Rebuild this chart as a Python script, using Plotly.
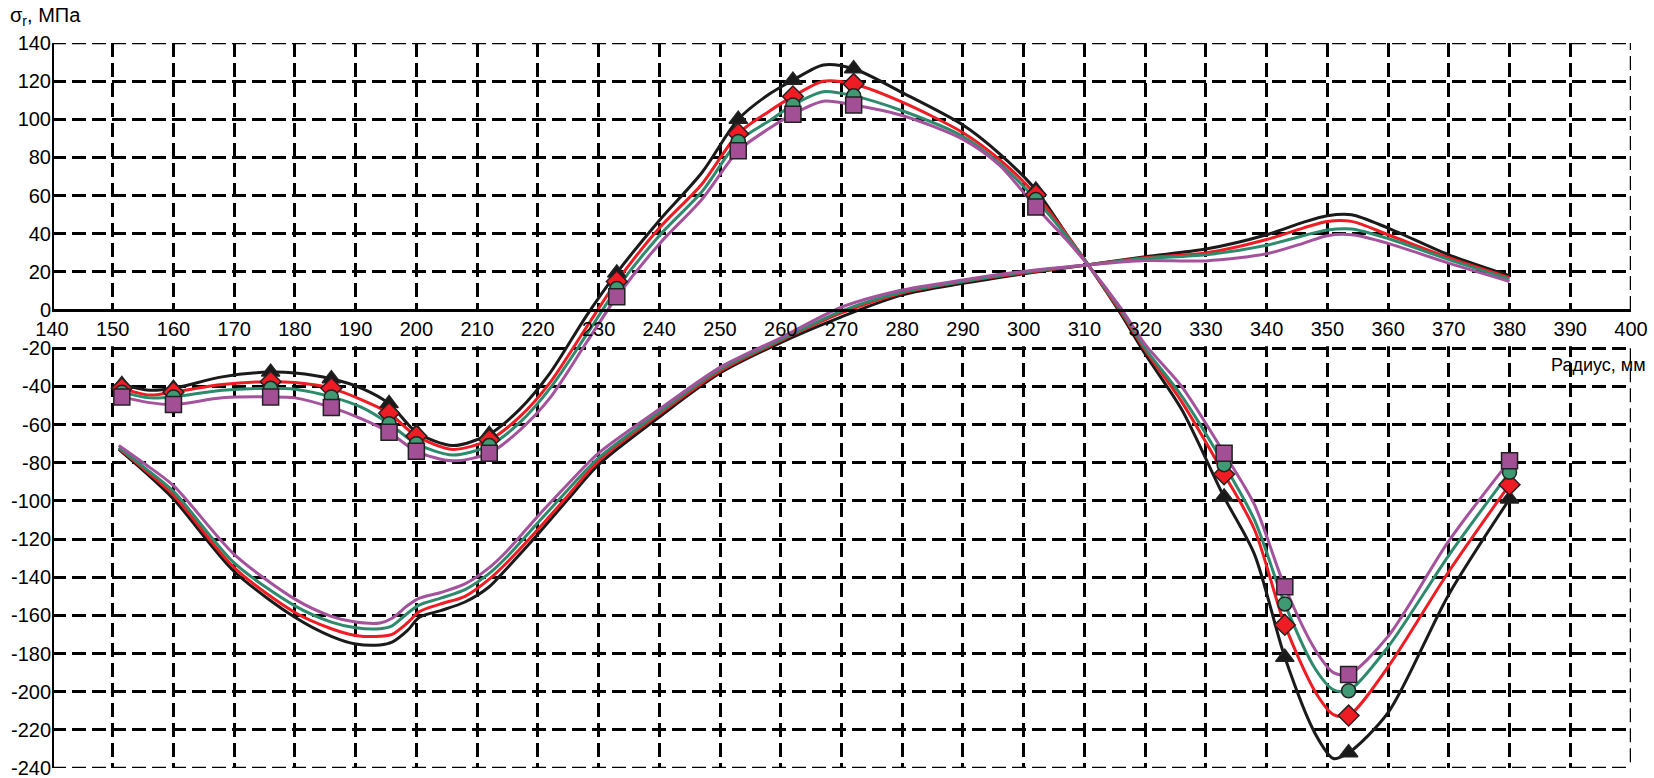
import plotly.graph_objects as go

# ---- data ----
# upper family (with markers)
UP_R = [151.5, 156, 160, 168, 176, 180, 186, 191, 195.5, 200, 206, 212, 217, 222, 228, 233,
        240, 247, 253, 258, 262, 267, 272, 280, 290, 296, 302, 307, 311, 316, 320, 326,
        333, 338, 343, 348, 351, 353.5, 360, 370, 380]
UP_BLACK = [-39, -42, -41, -35, -32.5, -33, -36, -41, -49, -64, -71, -65, -52, -33, -3, 19.5,
            47, 72, 100, 113, 120.5, 128.5, 126.5, 114, 97, 82, 63, 40, 22, -2, -23, -52,
            -98, -128, -182, -222, -235, -232, -211, -149, -99]
UP_RED = [-41, -44.5, -43, -39, -37.5, -38, -41, -47, -54, -66, -73, -68, -56, -38, -9, 15,
          43, 66, 92.5, 104, 112, 120, 118.5, 109, 93, 79, 60.5, 40, 22, -1, -21, -48,
          -86, -115, -165, -200, -212, -212.5, -187, -137, -91.5]
UP_GREEN = [-43, -46, -45.5, -42, -41, -41.5, -45.5, -51, -59.5, -70, -76, -71, -59, -41, -13, 11.3,
            39, 62, 88.4, 99, 107.5, 114.5, 112.3, 104.5, 91, 77, 58, 39, 22, 0, -20, -45,
            -81, -110, -154, -188, -199, -199.5, -176.5, -128.5, -85]
UP_PURPLE = [-45.5, -48.5, -49.5, -46, -45.5, -46, -51, -57, -64, -74, -79, -75, -63, -46, -17, 7,
             34.7, 58, 83.5, 95, 102.7, 109.5, 107.5, 102, 89.5, 76, 54, 37, 22, 1, -18, -40,
             -75, -102, -145, -178, -190, -191, -171, -121, -79]
MARKER_R = [151.5, 160, 176, 186, 195.5, 200, 212, 233, 253, 262, 272, 302, 333, 343, 353.5, 380]

# lower family (lines only)
LO_R = [151, 155, 160, 170, 180, 186, 190, 194, 196, 198.5, 200.5, 204, 208, 212, 215, 220,
        225, 230, 240, 250, 260, 270, 280, 290, 300, 310, 320, 330, 340, 346, 350, 354,
        360, 370, 380]
LO_BLACK = [-73, -84, -99, -137, -161, -171, -175, -175.5, -174, -168, -161, -157.5, -153, -145, -135, -117.5,
            -99, -81, -56, -33, -17, -3.5, 8, 14, 19, 23.5, 28, 32, 39.5, 46, 49.5, 50,
            43, 29, 18]
LO_RED = [-72.5, -83, -97, -135, -158.5, -167, -170.5, -171, -170, -164, -158, -154, -150, -141, -132, -115,
          -97, -79, -54.5, -32, -16, -1.5, 9, 15, 19.5, 23.5, 27.5, 30, 37, 43, 46.5, 46.5,
          39.5, 27.5, 17]
LO_GREEN = [-72, -82, -95, -132.5, -155, -163.5, -166.5, -167, -165.5, -159, -154.5, -151, -146.5, -138, -129, -111.5,
            -94, -77.5, -53.5, -31, -15.5, -0.5, 9.5, 15, 20, 23.5, 27, 29, 34, 39, 42, 42.5,
            37.5, 26.5, 16.3]
LO_PURPLE = [-71, -80, -92, -128, -151.5, -160.5, -163.5, -164, -161.5, -155, -151, -148, -143.5, -135, -126, -108,
             -91, -75, -52, -30, -14.5, 1.5, 10.5, 15.8, 20.3, 23.5, 26, 25.8, 29.5, 35, 39, 39.5,
             35, 24.6, 15]

X_TICKS = list(range(140, 401, 10))
Y_TICKS = list(range(-240, 141, 20))

series = [
    ("black", "#1a1a1a", "#1a1a1a", "triangle-up", UP_BLACK, LO_BLACK),
    ("red", "#f01c24", "#f01c24", "diamond", UP_RED, LO_RED),
    ("green", "#2e8a6c", "#3f9a74", "circle", UP_GREEN, LO_GREEN),
    ("purple", "#a5529c", "#a24f95", "square", UP_PURPLE, LO_PURPLE),
]

fig = go.Figure()

for name, lc, mc, sym, up, lo in series:
    fig.add_trace(go.Scatter(x=LO_R, y=lo, mode="lines", line=dict(color=lc, width=3, shape="spline", smoothing=0.8),
                             showlegend=False, hoverinfo="skip"))

for name, lc, mc, sym, up, lo in series:
    fig.add_trace(go.Scatter(x=UP_R, y=up, mode="lines", line=dict(color=lc, width=3, shape="spline", smoothing=0.8),
                             showlegend=False, hoverinfo="skip"))

for name, lc, mc, sym, up, lo in series:
    my = [up[UP_R.index(r)] for r in MARKER_R]
    fig.add_trace(go.Scatter(x=MARKER_R, y=my, mode="markers",
                             marker=dict(symbol=sym, size=16 if sym != "circle" else 14, color=mc,
                                         line=dict(color="#222222", width=1.5)),
                             showlegend=False))

DASH = "14px,6px"
grid = dict(showgrid=True, gridcolor="black", gridwidth=2.5, griddash=DASH)
edge = dict(color="black", width=2.5, dash=DASH)

fig.update_layout(
    width=1654, height=778,
    margin=dict(l=52, r=23, t=43, b=10),
    paper_bgcolor="white", plot_bgcolor="white",
    font=dict(family="Liberation Sans, Arial, sans-serif", size=20, color="black"),
    xaxis=dict(range=[140, 400], tickvals=X_TICKS, ticktext=[str(v) for v in X_TICKS],
               anchor="free", position=240 / 380, showline=True, linecolor="black", linewidth=3,
               ticks="", zeroline=False, automargin=False, ticklabeloverflow="allow", **grid),
    yaxis=dict(range=[-240, 140], tickvals=Y_TICKS, ticktext=[str(v) for v in Y_TICKS],
               showline=False, ticks="", zeroline=False, automargin=False,
               ticklabeloverflow="allow", **grid),
    shapes=[
        # dashed frame on the top, right and bottom edges
        dict(type="line", xref="x", yref="y", x0=140, x1=400, y0=140, y1=140, line=edge, layer="below"),
        dict(type="line", xref="x", yref="y", x0=140, x1=400, y0=-240, y1=-240, line=edge, layer="below"),
        dict(type="line", xref="x", yref="y", x0=400, x1=400, y0=0, y1=140, line=edge, layer="below"),
        dict(type="line", xref="x", yref="y", x0=400, x1=400, y0=-20, y1=-240, line=edge, layer="below"),
        # blank band for the radius tick labels
        dict(type="rect", xref="x", yref="y", x0=140.5, x1=399.5, y0=-1, y1=-19,
             fillcolor="white", line=dict(width=0), layer="between"),
        # thick left axis, broken at the label band
        dict(type="line", xref="x", yref="y", x0=140, x1=140, y0=0, y1=140,
             line=dict(color="black", width=4), layer="above"),
        dict(type="line", xref="x", yref="y", x0=140, x1=140, y0=-20, y1=-240,
             line=dict(color="black", width=4), layer="above"),
    ],
    annotations=[
        dict(text="σ<sub>r</sub>, МПа", xref="paper", yref="paper", x=-0.028, y=1.037,
             xanchor="left", yanchor="middle", showarrow=False, font=dict(size=20)),
        dict(text="Радиус, мм", xref="paper", yref="y", x=1.011, y=-29,
             xanchor="right", yanchor="middle", showarrow=False, font=dict(size=18)),
    ],
)

fig.write_html("out.html", config={"displayModeBar": False},
               post_script="document.body.style.margin='0';")
